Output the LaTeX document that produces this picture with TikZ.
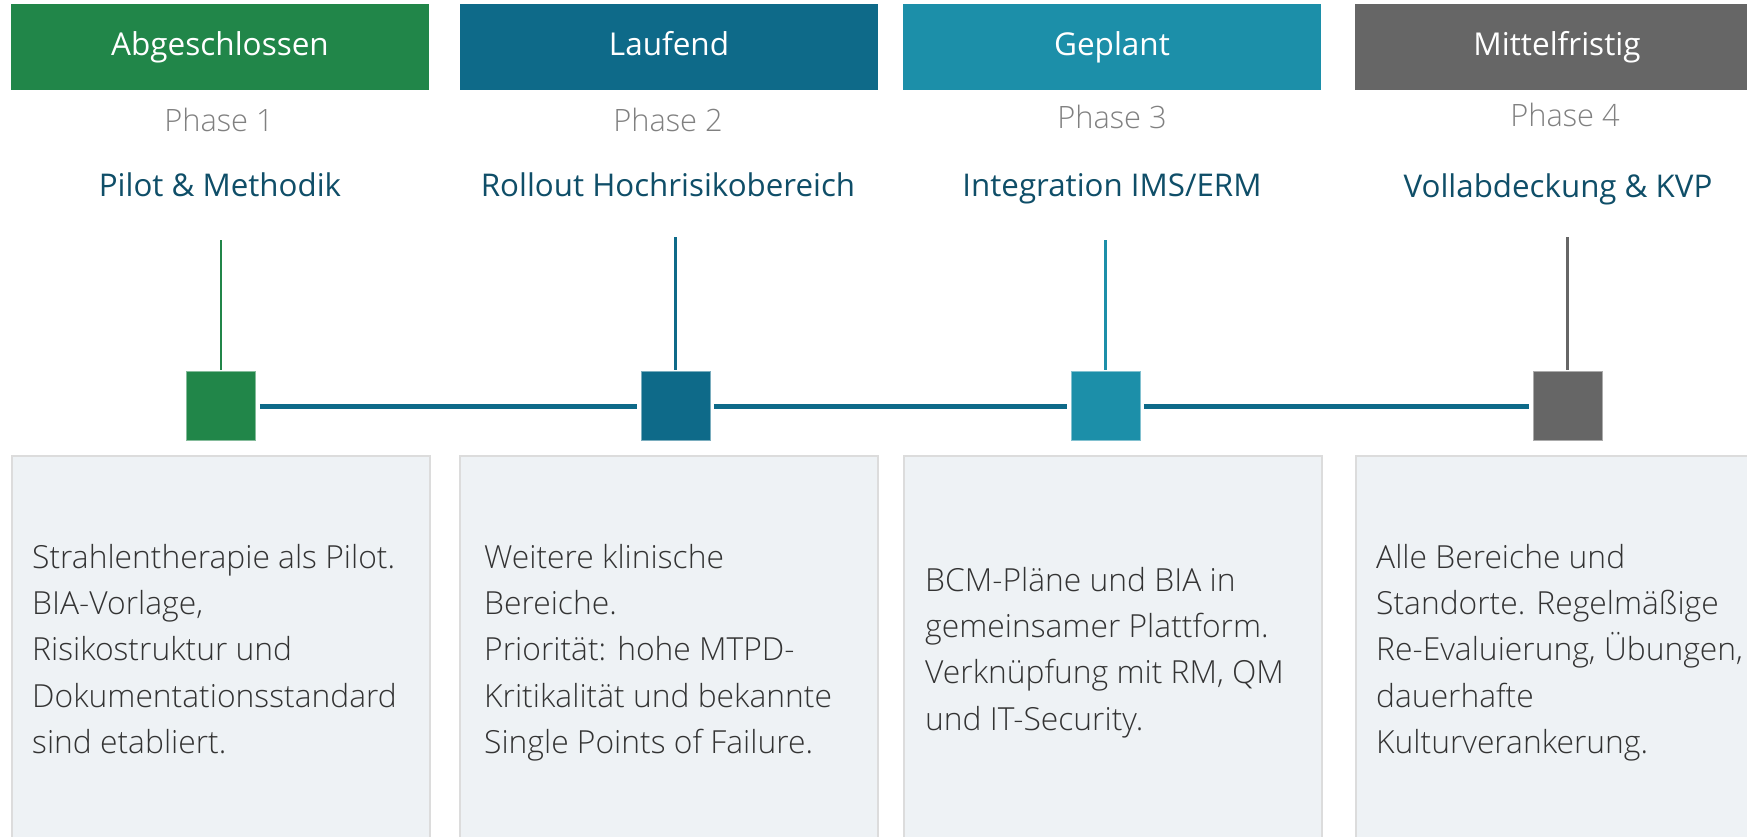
\documentclass[tikz,border=0pt]{standalone}
\usepackage{fontspec}
\setmainfont{Open Sans}
\IfFontExistsTF{Open Sans Light}
  {\newfontfamily\lightfont{Open Sans Light}}
  {\newfontfamily\lightfont{Open Sans}}
\usetikzlibrary{positioning}

\definecolor{cDone}{HTML}{218649}
\definecolor{cRun}{HTML}{0E6A89}
\definecolor{cPlan}{HTML}{1C8FA9}
\definecolor{cMid}{HTML}{666666}
\definecolor{cTitle}{HTML}{0F4E68}
\definecolor{cPhase}{HTML}{808080}
\definecolor{cBody}{HTML}{333333}
\definecolor{cCard}{HTML}{EEF2F5}
\definecolor{cCardLine}{HTML}{DCDCDC}

\tikzset{
  header/.style={fill=#1, minimum width=418pt, minimum height=86pt, inner sep=0pt,
    text=white, text height=22.5pt, text depth=6.5pt,
    font=\fontsize{31.5}{38}\selectfont},
  phaselbl/.style={anchor=base, inner sep=0pt, text=cPhase,
    font=\lightfont\fontsize{30.8}{36}\selectfont},
  titlelbl/.style={anchor=base, inner sep=0pt, text=cTitle,
    font=\fontsize{31.3}{38}\selectfont},
  stem/.style={draw=#1, line width=2.2pt},
  marker/.style={fill=#1, draw=#1!55!white, line width=0.8pt,
    minimum size=69pt, inner sep=0pt},
  track/.style={draw=cRun, line width=5pt, shorten <=4pt, shorten >=4pt},
  card/.style={fill=cCard, draw=cCardLine, line width=2pt, anchor=north west,
    minimum width=418pt, minimum height=420pt, inner sep=0pt},
  cardtext/.style={anchor=north west, inner sep=0pt, align=left, text=cBody,
    font=\lightfont\fontsize{31.8}{46.3}\selectfont},
}
\newcommand{\firstline}{\rule{0pt}{25pt}}

\begin{document}
\begin{tikzpicture}[x=1pt, y=-1pt]
\useasboundingbox (0,0) rectangle (1747,836);
\clip (0,0) rectangle (1747,836);

% status headers
\node[header=cDone] (h1) at (220,47) {Abgeschlossen};
\node[header=cRun]  (h2) at (669,47) {Laufend};
\node[header=cPlan] (h3) at (1112,47) {Geplant};
\node[header=cMid]  (h4) at (1564,47) {\hspace*{-14pt}Mittelfristig};

% phase numbers
\node[phaselbl] (p1) at (219,131) {Phase 1};
\node[phaselbl] (p2) at (668,131) {Phase 2};
\node[phaselbl] (p3) at (1112,128) {Phase 3};
\node[phaselbl] (p4) at (1565,126) {Phase 4};

% phase titles
\node[titlelbl] (t1) at (220,196) {Pilot \& Methodik};
\node[titlelbl] (t2) at (668,196) {Rollout Hochrisikobereich};
\node[titlelbl] (t3) at (1112,196) {Integration IMS/ERM};
\node[titlelbl] (t4) at (1558,197) {Vollabdeckung \& KVP};

% timeline markers
\node[marker=cDone] (s1) at (221,406) {};
\node[marker=cRun]  (s2) at (675.5,406) {};
\node[marker=cPlan] (s3) at (1105.5,406) {};
\node[marker=cMid]  (s4) at (1567.5,406) {};

% stems from the titles down to the markers
\coordinate (k1) at (221,240);
\coordinate (k2) at (675.5,237);
\coordinate (k3) at (1105.5,240);
\coordinate (k4) at (1567.5,237);
\draw[stem=cDone] (k1) -- ([yshift=1pt]s1.north);
\draw[stem=cRun]  (k2) -- ([yshift=1pt]s2.north);
\draw[stem=cPlan] (k3) -- ([yshift=1pt]s3.north);
\draw[stem=cMid]  (k4) -- ([yshift=1pt]s4.north);

% track between markers
\draw[track] (s1.east) -- (s2.west);
\draw[track] (s2.east) -- (s3.west);
\draw[track] (s3.east) -- (s4.west);

% description cards
\node[card] (c1) at (11,455) {};
\node[card] (c2) at (459,455) {};
\node[card] (c3) at (903,455) {};
\node[card] (c4) at (1355,455) {};

\node[cardtext] (d1) at (32,543) {\firstline Strahlentherapie als Pilot.\\
  BIA-Vorlage,\\ Risikostruktur und\\ Dokumentationsstandard\\ sind etabliert.};
\node[cardtext] (d2) at (484,543) {\firstline Weitere klinische\\ Bereiche.\\
  Priorität: hohe MTPD-\\ Kritikalität und bekannte\\ Single Points of Failure.};
\node[cardtext] (d3) at (925,566) {\firstline BCM-Pläne und BIA in\\
  gemeinsamer Plattform.\\ Verknüpfung mit RM, QM\\ und IT-Security.};
\node[cardtext] (d4) at (1376,543) {\firstline Alle Bereiche und\\
  Standorte. Regelmäßige\\ Re-Evaluierung, Übungen,\\ dauerhafte\\ Kulturverankerung.};
\end{tikzpicture}
\end{document}
